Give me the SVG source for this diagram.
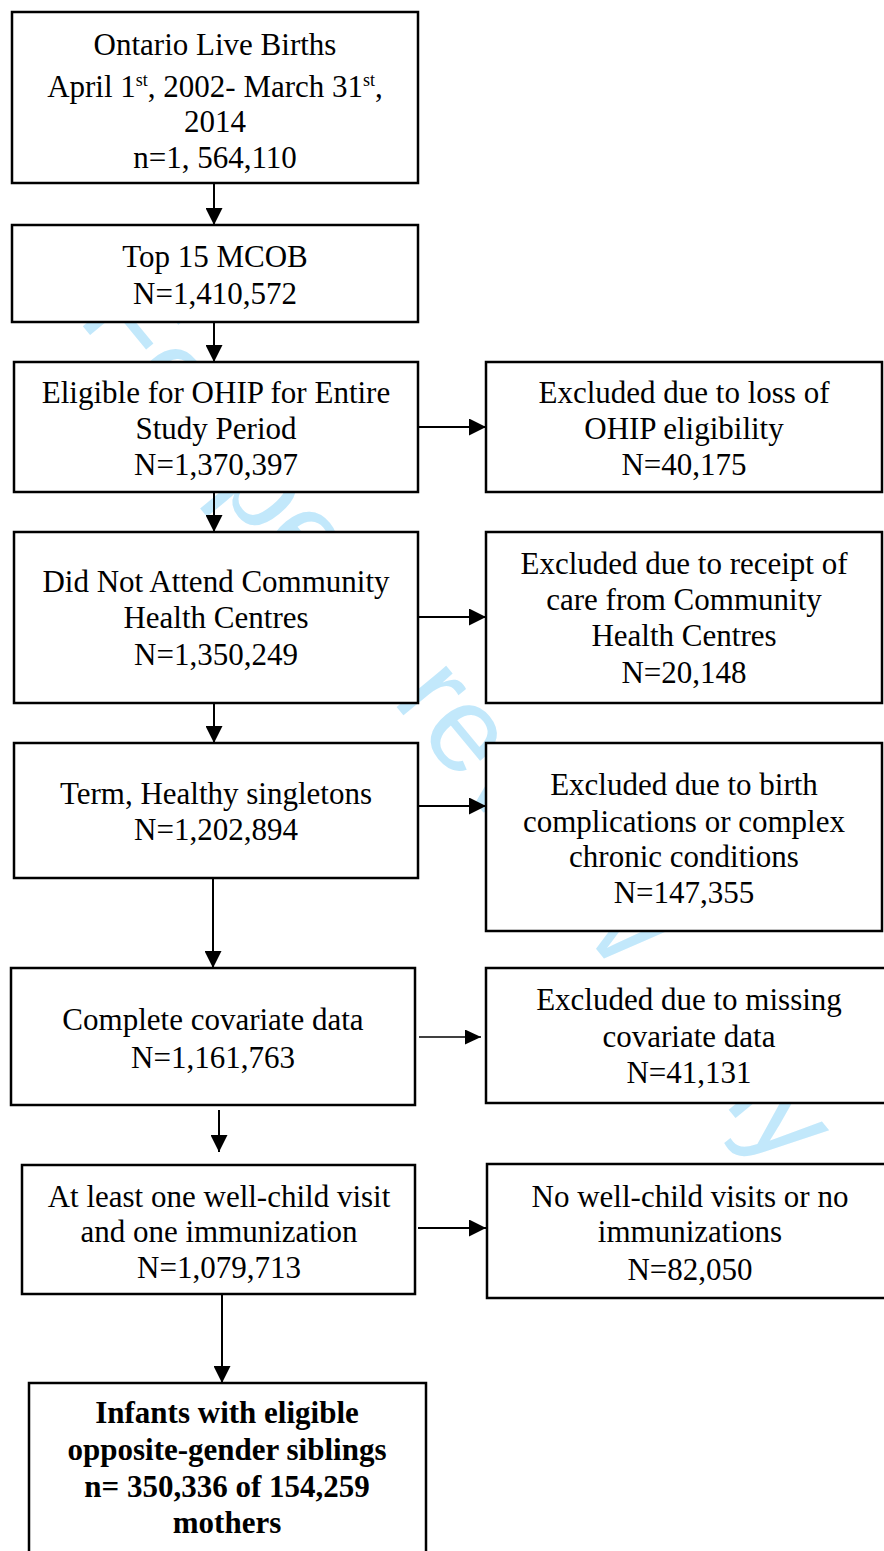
<svg xmlns="http://www.w3.org/2000/svg" width="884" height="1551" viewBox="0 0 884 1551">
<style>
.box{fill:#fff;stroke:#000;stroke-width:2.5}
.t{font-family:"Liberation Serif","Times New Roman",serif;font-size:31px;fill:#000;text-anchor:middle}
.b{font-weight:bold}
.sup{font-size:18px}
.c{fill:none;stroke:#000;stroke-width:2}
.thin{stroke-width:1.4}
.wm{font-family:"Liberation Sans",Arial,sans-serif;font-size:122px;fill:#c2e8fb;text-anchor:middle}
</style>
<defs>
<marker id="ah" viewBox="0 0 17 17" refX="17" refY="8.5" markerWidth="17" markerHeight="17" markerUnits="userSpaceOnUse" orient="auto">
<path d="M0,0 L17,8.5 L0,17 Z" fill="#000"/>
</marker>
<marker id="ahs" viewBox="0 0 16 15" refX="16" refY="7.5" markerWidth="16" markerHeight="15" markerUnits="userSpaceOnUse" orient="auto">
<path d="M0,0 L16,7.5 L0,15 Z" fill="#000"/>
</marker>
</defs>
<rect width="884" height="1551" fill="#fff"/>
<text class="wm" transform="translate(428,745) rotate(50.5)" x="0" y="0">For peer review only</text>

<g id="connectors">
<path class="c" d="M214,183 V225" marker-end="url(#ah)"/>
<path class="c" d="M214,322 V362" marker-end="url(#ah)"/>
<path class="c" d="M214,492 V532" marker-end="url(#ah)"/>
<path class="c" d="M214,703 V743" marker-end="url(#ah)"/>
<path class="c" d="M213,878 V968" marker-end="url(#ah)"/>
<path class="c" d="M219,1110 V1152" marker-end="url(#ah)"/>
<path class="c" d="M222,1294 V1383" marker-end="url(#ah)"/>
<path class="c" d="M418,427 H486" marker-end="url(#ah)"/>
<path class="c" d="M418,617 H486" marker-end="url(#ah)"/>
<path class="c" d="M418,806 H486" marker-end="url(#ah)"/>
<path class="c thin" d="M419,1037 H481" marker-end="url(#ahs)"/>
<path class="c" d="M418,1228 H486" marker-end="url(#ah)"/>
</g>

<g id="n1">
<rect class="box" x="12" y="12" width="406" height="171"/>
<text class="t" x="215" y="55">Ontario Live Births</text>
<text class="t" x="215" y="97">April 1<tspan class="sup" dy="-11">st</tspan><tspan dy="11">, 2002- March 31</tspan><tspan class="sup" dy="-11">st</tspan><tspan dy="11">,</tspan></text>
<text class="t" x="215" y="132">2014</text>
<text class="t" x="215" y="168">n=1, 564,110</text>
</g>

<g id="n2">
<rect class="box" x="12" y="225" width="406" height="97"/>
<text class="t" x="215" y="267">Top 15 MCOB</text>
<text class="t" x="215" y="304">N=1,410,572</text>
</g>

<g id="n3">
<rect class="box" x="14" y="362" width="404" height="130"/>
<text class="t" x="216" y="403">Eligible for OHIP for Entire</text>
<text class="t" x="216" y="439">Study Period</text>
<text class="t" x="216" y="475">N=1,370,397</text>
</g>

<g id="r1">
<rect class="box" x="486" y="362" width="396" height="130"/>
<text class="t" x="684" y="403">Excluded due to loss of</text>
<text class="t" x="684" y="439">OHIP eligibility</text>
<text class="t" x="684" y="475">N=40,175</text>
</g>

<g id="n4">
<rect class="box" x="14" y="532" width="404" height="171"/>
<text class="t" x="216" y="592">Did Not Attend Community</text>
<text class="t" x="216" y="628">Health Centres</text>
<text class="t" x="216" y="665">N=1,350,249</text>
</g>

<g id="r2">
<rect class="box" x="486" y="532" width="396" height="171"/>
<text class="t" x="684" y="574">Excluded due to receipt of</text>
<text class="t" x="684" y="610">care from Community</text>
<text class="t" x="684" y="646">Health Centres</text>
<text class="t" x="684" y="683">N=20,148</text>
</g>

<g id="n5">
<rect class="box" x="14" y="743" width="404" height="135"/>
<text class="t" x="216" y="804">Term, Healthy singletons</text>
<text class="t" x="216" y="840">N=1,202,894</text>
</g>

<g id="r3">
<rect class="box" x="486" y="743" width="396" height="188"/>
<text class="t" x="684" y="795">Excluded due to birth</text>
<text class="t" x="684" y="832">complications or complex</text>
<text class="t" x="684" y="867">chronic conditions</text>
<text class="t" x="684" y="903">N=147,355</text>
</g>

<g id="n6">
<rect class="box" x="11" y="968" width="404" height="137"/>
<text class="t" x="213" y="1030">Complete covariate data</text>
<text class="t" x="213" y="1068">N=1,161,763</text>
</g>

<g id="r4">
<rect class="box" x="486" y="968" width="406" height="135"/>
<text class="t" x="689" y="1010">Excluded due to missing</text>
<text class="t" x="689" y="1047">covariate data</text>
<text class="t" x="689" y="1083">N=41,131</text>
</g>

<g id="n7">
<rect class="box" x="22" y="1165" width="393" height="129"/>
<text class="t" x="219" y="1207">At least one well-child visit</text>
<text class="t" x="219" y="1242">and one immunization</text>
<text class="t" x="219" y="1278">N=1,079,713</text>
</g>

<g id="r5">
<rect class="box" x="487" y="1164" width="405" height="134"/>
<text class="t" x="690" y="1207">No well-child visits or no</text>
<text class="t" x="690" y="1242">immunizations</text>
<text class="t" x="690" y="1280">N=82,050</text>
</g>

<g id="n8">
<rect class="box" x="29" y="1383" width="397" height="220"/>
<text class="t b" x="227" y="1423">Infants with eligible</text>
<text class="t b" x="227" y="1460">opposite-gender siblings</text>
<text class="t b" x="227" y="1497">n= 350,336 of 154,259</text>
<text class="t b" x="227" y="1533">mothers</text>
</g>
</svg>
